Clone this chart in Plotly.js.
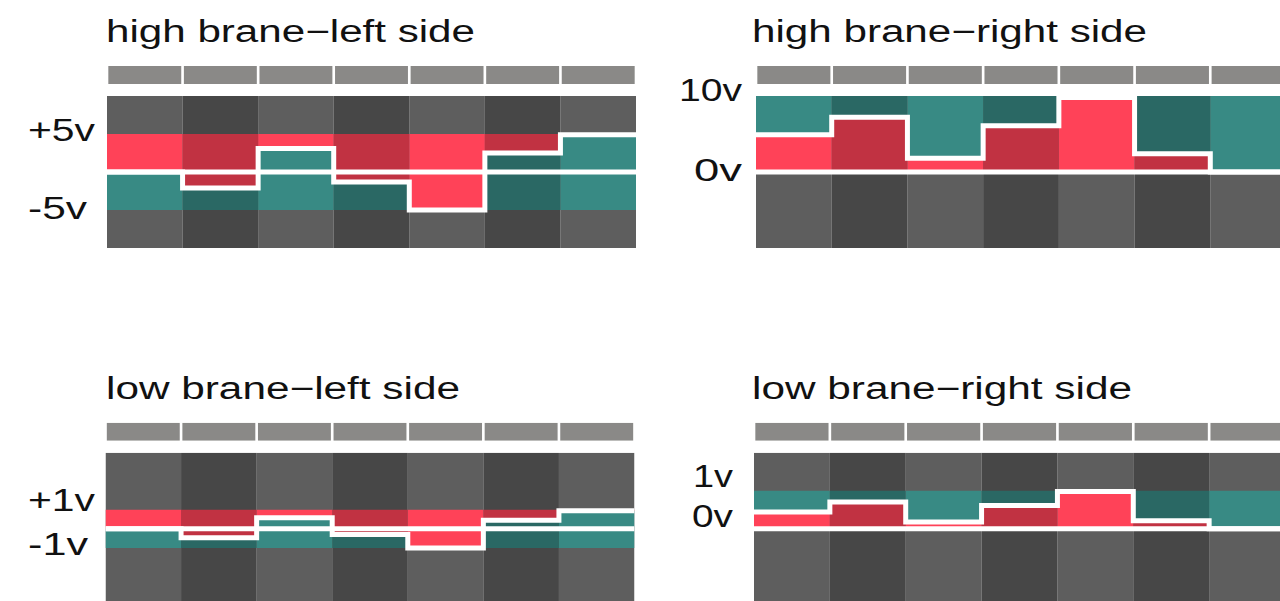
<!DOCTYPE html>
<html>
<head>
<meta charset="utf-8">
<script src="https://cdn.plot.ly/plotly-3.0.1.min.js"></script>
<style>
  html, body { margin: 0; padding: 0; overflow: hidden; background: #ffffff; }
  #chart { width: 1290px; height: 610px; }
</style>
</head>
<body>
<div id="chart"></div>
<script>
// ---------------- data ----------------
const columnIds = [1, 2, 3, 4, 5, 6, 7];

const highLeftValues  = [0, -2.1, 3.1, -1.3, -5, 2.5, 4.9];
const highRightValues = [4.9, 7.2, 1.8, 6.1, 9.8, 2.4, 0];
const lowLeftValues   = [0, -0.47, 0.58, -0.3, -1.0, 0.45, 0.95];
const lowRightValues  = [0.44, 0.705, 0.18, 0.61, 0.98, 0.21, 0];

const highLeftBand  = [-5, 5];
const highRightBand = [0, 10];
const lowLeftBand   = [-1, 1];
const lowRightBand  = [0, 1];

const panelTitles = [
  'high brane\u2212left side',
  'high brane\u2212right side',
  'low brane\u2212left side',
  'low brane\u2212right side'
];

const highLeftTickVals  = [5, -5];
const highLeftTickText  = ['+5v', '-5v'];
const highRightTickVals = [10, 0];
const highRightTickText = ['10v', '0v'];
const lowLeftTickVals   = [1, -1];
const lowLeftTickText   = ['+1v', '-1v'];
const lowRightTickVals  = [1, 0];
const lowRightTickText  = ['1v', '0v'];

// ---------------- styles / layout ----------------
const W = 1290, H = 610;
const RED = '#ff4258', TEAL = '#388a84', GRAY = '#5e5e5e', HEAD = '#8a8987';
const SHADE = 'rgba(0,0,0,0.245)';
const FONT = 'Liberation Sans, Arial, Helvetica, sans-serif';

const panels = [
  { values: highLeftValues,  band: highLeftBand,  range: [-10, 10], side: 'left',
    x: [107, 636], main: [96, 248], head: [66, 84],
    title: panelTitles[0], titleX: 106, titleY: 31.5, titleLen: 369,
    tickVals: highLeftTickVals, tickText: highLeftTickText,
    tickLeft: [28, 28], tickLen: [67, 59], tickShift: [4, 2] },
  { values: highRightValues, band: highRightBand, range: [-10, 10], side: 'right',
    x: [756, 1286], main: [96, 248], head: [66, 84],
    title: panelTitles[1], titleX: 752, titleY: 31.5, titleLen: 395,
    tickVals: highRightTickVals, tickText: highRightTickText,
    tickLeft: [679, 694], tickLen: [63, 48], tickShift: [6, 1.5] },
  { values: lowLeftValues,   band: lowLeftBand,   range: [-4, 4], side: 'left',
    x: [105.5, 634.5], main: [452.7, 605], head: [422.7, 440.7],
    title: panelTitles[2], titleX: 106, titleY: 388, titleLen: 354,
    tickVals: lowLeftTickVals, tickText: lowLeftTickText,
    tickLeft: [28, 28], tickLen: [67, 60], tickShift: [9.5, 3.5] },
  { values: lowRightValues,  band: lowRightBand,  range: [-2, 2], side: 'right',
    x: [754, 1285], main: [452.7, 605], head: [422.7, 440.7],
    title: panelTitles[3], titleX: 752, titleY: 388, titleLen: 380,
    tickVals: lowRightTickVals, tickText: lowRightTickText,
    tickLeft: [693, 692], tickLen: [40, 41], tickShift: [14, 12] }
];

const data = [];
const layout = {
  width: W, height: H,
  margin: { l: 0, r: 0, t: 0, b: 0 },
  paper_bgcolor: '#ffffff', plot_bgcolor: 'rgba(0,0,0,0)',
  showlegend: false, barmode: 'overlay',
  annotations: []
};
const annLengths = [];

function hidden(extra) {
  return Object.assign({ visible: true, showgrid: false, zeroline: false, showline: false,
    showticklabels: false, ticks: '', fixedrange: true }, extra);
}

panels.forEach((p, k) => {
  const mi = 2 * k + 1, hi = 2 * k + 2;
  const mx = 'x' + mi, my = 'y' + mi, hx = 'x' + hi, hy = 'y' + hi;
  const xd = [p.x[0] / W, p.x[1] / W];
  layout['xaxis' + mi] = hidden({ domain: xd, range: [0, 7], anchor: my });
  layout['yaxis' + mi] = hidden({ domain: [1 - p.main[1] / H, 1 - p.main[0] / H], range: p.range, anchor: mx });
  layout['xaxis' + hi] = hidden({ domain: xd, range: [0, 7], anchor: hy });
  layout['yaxis' + hi] = hidden({ domain: [1 - p.head[1] / H, 1 - p.head[0] / H], range: [0, 1], anchor: hx });

  const xc = columnIds.map(c => c - 0.5);
  const span = p.range[1] - p.range[0];
  const lowColor = p.side === 'left' ? TEAL : RED;
  const upColor  = p.side === 'left' ? RED : TEAL;

  // header segments
  data.push({ type: 'bar', xaxis: hx, yaxis: hy, x: xc, y: columnIds.map(() => 1), base: 0,
    width: 0.965, marker: { color: HEAD, line: { width: 0 } }, hoverinfo: 'skip' });
  // background columns
  data.push({ type: 'bar', xaxis: mx, yaxis: my, x: xc, y: columnIds.map(() => span), base: p.range[0],
    width: 1, marker: { color: GRAY, line: { width: 0 } }, hoverinfo: 'skip' });
  // band below the level
  data.push({ type: 'bar', xaxis: mx, yaxis: my, x: xc, y: p.values.map(v => v - p.band[0]), base: p.band[0],
    width: 1, marker: { color: lowColor, line: { width: 0 } }, hoverinfo: 'skip' });
  // band above the level
  data.push({ type: 'bar', xaxis: mx, yaxis: my, x: xc, y: p.values.map(v => p.band[1] - v), base: p.values,
    width: 1, marker: { color: upColor, line: { width: 0 } }, hoverinfo: 'skip' });
  // alternating column shading
  data.push({ type: 'bar', xaxis: mx, yaxis: my, x: xc, y: columnIds.map(() => span), base: p.range[0],
    width: 1, marker: { color: columnIds.map((c, i) => i % 2 ? SHADE : 'rgba(0,0,0,0)'), line: { width: 0 } },
    hoverinfo: 'skip' });
  // zero line
  data.push({ type: 'scatter', mode: 'lines', xaxis: mx, yaxis: my, x: [0, 7], y: [0, 0],
    line: { color: '#ffffff', width: 5 }, hoverinfo: 'skip' });
  // step line of the level
  data.push({ type: 'scatter', mode: 'lines', xaxis: mx, yaxis: my,
    x: [0].concat(columnIds), y: p.values.concat([p.values[p.values.length - 1]]),
    line: { color: '#ffffff', width: 5, shape: 'hv' }, hoverinfo: 'skip' });

  // title
  layout.annotations.push({ xref: 'paper', yref: 'paper', x: p.titleX / W, y: 1 - p.titleY / H,
    xanchor: 'left', yanchor: 'middle', align: 'left', showarrow: false, text: p.title,
    borderpad: 0, borderwidth: 0, font: { family: FONT, size: 31, color: '#111111' } });
  annLengths.push(p.titleLen);

  // voltage labels
  p.tickVals.forEach((tv, j) => {
    layout.annotations.push({ xref: 'paper', yref: my, x: p.tickLeft[j] / W, y: tv,
      yshift: p.tickShift[j], xanchor: 'left', yanchor: 'middle', align: 'left', showarrow: false,
      text: p.tickText[j], borderpad: 0, borderwidth: 0,
      font: { family: FONT, size: 31, color: '#111111' } });
    annLengths.push(p.tickLen[j]);
  });
});

Plotly.newPlot('chart', data, layout, { staticPlot: true, displayModeBar: false }).then(gd => {
  gd.querySelectorAll('.annotation').forEach(g => {
    const i = +g.getAttribute('data-index');
    const t = g.querySelector('text.annotation-text');
    if (t && annLengths[i]) {
      t.setAttribute('textLength', annLengths[i]);
      t.setAttribute('lengthAdjust', 'spacingAndGlyphs');
    }
  });
});
</script>
</body>
</html>
